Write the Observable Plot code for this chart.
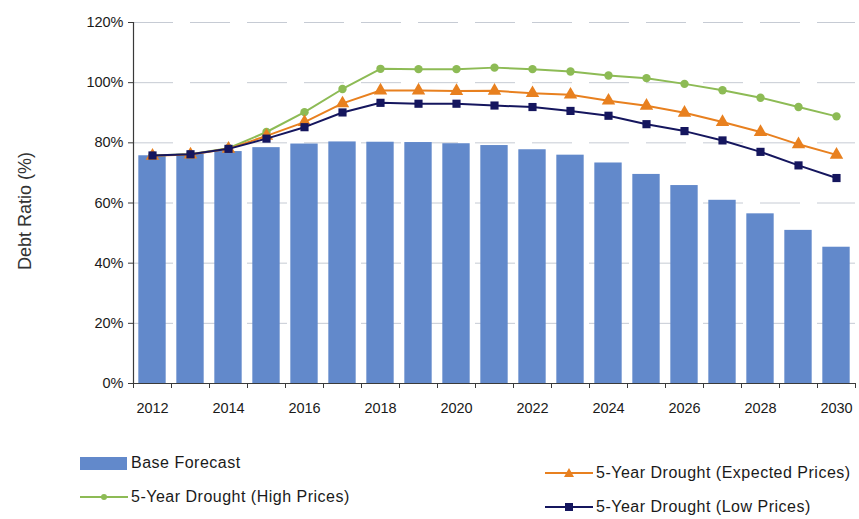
<!DOCTYPE html>
<html>
<head>
<meta charset="utf-8">
<script src="https://cdn.jsdelivr.net/npm/d3@7"></script>
<script src="https://cdn.jsdelivr.net/npm/@observablehq/plot@0.6"></script>
<style>
  html, body { margin: 0; padding: 0; background: #fff; overflow: hidden; }
  #wrap { position: relative; width: 859px; height: 519px; font-family: "Liberation Sans", Arial, sans-serif; color: #1a1a1a; }
  .leg { position: absolute; display: flex; align-items: center; font-size: 16px; letter-spacing: 0.5px; white-space: nowrap; }
  .leg svg { margin-right: 3px; }
</style>
</head>
<body>
<div id="wrap"></div>
<script>
// ---- data ----
const years = [2012, 2013, 2014, 2015, 2016, 2017, 2018, 2019, 2020, 2021, 2022, 2023, 2024, 2025, 2026, 2027, 2028, 2029, 2030];
const baseForecast   = [75.7, 76.2, 77.1, 78.4, 79.6, 80.3, 80.2, 80.1, 79.7, 79.1, 77.7, 75.9, 73.3, 69.5, 65.8, 60.9, 56.4, 50.9, 45.3];
const highPrices     = [75.8, 76.2, 78.2, 83.6, 90.2, 97.9, 104.6, 104.5, 104.5, 105.0, 104.5, 103.7, 102.4, 101.5, 99.6, 97.5, 95.0, 91.9, 88.8];
const expectedPrices = [75.7, 76.1, 78.0, 82.3, 86.9, 93.1, 97.4, 97.4, 97.2, 97.3, 96.5, 96.0, 94.0, 92.3, 90.0, 86.9, 83.6, 79.5, 76.0];
const lowPrices      = [75.8, 76.2, 78.0, 81.4, 85.2, 90.1, 93.3, 93.0, 93.0, 92.4, 91.9, 90.6, 89.0, 86.2, 83.9, 80.8, 77.0, 72.5, 68.3];
const yTicks = [0, 20, 40, 60, 80, 100, 120];
const xLabelYears = [2012, 2014, 2016, 2018, 2020, 2022, 2024, 2026, 2028, 2030];
const seriesNames = ["Base Forecast", "5-Year Drought (High Prices)", "5-Year Drought (Expected Prices)", "5-Year Drought (Low Prices)"];

// ---- styles ----
const barColor = "#6289cb";
const greenColor = "#8dbb55";
const orangeColor = "#e8801f";
const navyColor = "#15165e";
const gridColor = "#c6cbd4";
const axisColor = "#3a3a3a";

const table = years.map((year, i) => ({
  year, base: baseForecast[i], high: highPrices[i], expected: expectedPrices[i], low: lowPrices[i]
}));
const boundaries = years.map(y => y - 0.5).concat([years[years.length - 1] + 0.5]);
const xDomain = [boundaries[0], boundaries[boundaries.length - 1]];

const chart = Plot.plot({
  width: 859,
  height: 440,
  marginLeft: 133,
  marginRight: 4,
  marginTop: 22,
  marginBottom: 57,
  style: { fontFamily: "'Liberation Sans', Arial, sans-serif", fontSize: "14px", color: "#1a1a1a", background: "transparent", overflow: "visible" },
  x: { type: "linear", domain: xDomain },
  y: { domain: [0, 120] },
  marks: [
    Plot.ruleY(yTicks.filter(t => t > 0), { stroke: gridColor, strokeWidth: 1, strokeDasharray: "40,17" }),
    Plot.rectY(table, { x1: d => d.year - 0.36, x2: d => d.year + 0.36, y: "base", fill: barColor }),
    Plot.ruleX([xDomain[0]], { y1: 0, y2: 120, stroke: axisColor, strokeWidth: 1.2 }),
    Plot.ruleY([0], { stroke: axisColor, strokeWidth: 1.2 }),
    Plot.axisY({ ticks: yTicks, tickSize: 5, tickPadding: 5, tickFormat: d => d + "%", label: null, fontSize: 14.5, stroke: axisColor }),
    Plot.axisX({ ticks: boundaries, tickSize: 5, tickFormat: () => "", label: null, stroke: axisColor }),
    Plot.axisX({ ticks: xLabelYears, tickSize: 0, tickPadding: 19, tickFormat: d => String(d), label: null, fontSize: 14.5 }),
    Plot.line(table, { x: "year", y: "high", stroke: greenColor, strokeWidth: 2 }),
    Plot.dot(table, { x: "year", y: "high", fill: greenColor, r: 4.2, symbol: "circle" }),
    Plot.line(table, { x: "year", y: "expected", stroke: orangeColor, strokeWidth: 2 }),
    Plot.dot(table, { x: "year", y: "expected", fill: orangeColor, r: 5, symbol: "triangle" }),
    Plot.line(table, { x: "year", y: "low", stroke: navyColor, strokeWidth: 2 }),
    Plot.dot(table, { x: "year", y: "low", fill: navyColor, r: 4.6, symbol: "square" }),
    Plot.text(["Debt Ratio (%)"], { frameAnchor: "left", textAnchor: "middle", rotate: -90, dx: -108, dy: 8, fontSize: 18, fill: "#333" })
  ]
});

const wrap = document.getElementById("wrap");
wrap.appendChild(chart);

// ---- legend ----
function legendItem(left, top, swatchSvg, text) {
  const div = document.createElement("div");
  div.className = "leg";
  div.style.left = left + "px";
  div.style.top = top + "px";
  div.innerHTML = swatchSvg + "<span>" + text + "</span>";
  wrap.appendChild(div);
}
const lineSwatch = (color, marker) =>
  `<svg width="48" height="14"><line x1="0" y1="7" x2="48" y2="7" stroke="${color}" stroke-width="2"/>${marker}</svg>`;
legendItem(80, 454, `<svg width="48" height="15"><rect x="0" y="1" width="47" height="13" fill="${barColor}"/></svg>`, seriesNames[0]);
legendItem(80, 488, lineSwatch(greenColor, `<circle cx="24" cy="7" r="3" fill="${greenColor}"/>`), seriesNames[1]);
legendItem(545, 464, lineSwatch(orangeColor, `<path d="M24,2 L29,11 L19,11 Z" fill="${orangeColor}"/>`), seriesNames[2]);
legendItem(545, 498, lineSwatch(navyColor, `<rect x="20" y="3" width="8" height="8" fill="${navyColor}"/>`), seriesNames[3]);
</script>
</body>
</html>
